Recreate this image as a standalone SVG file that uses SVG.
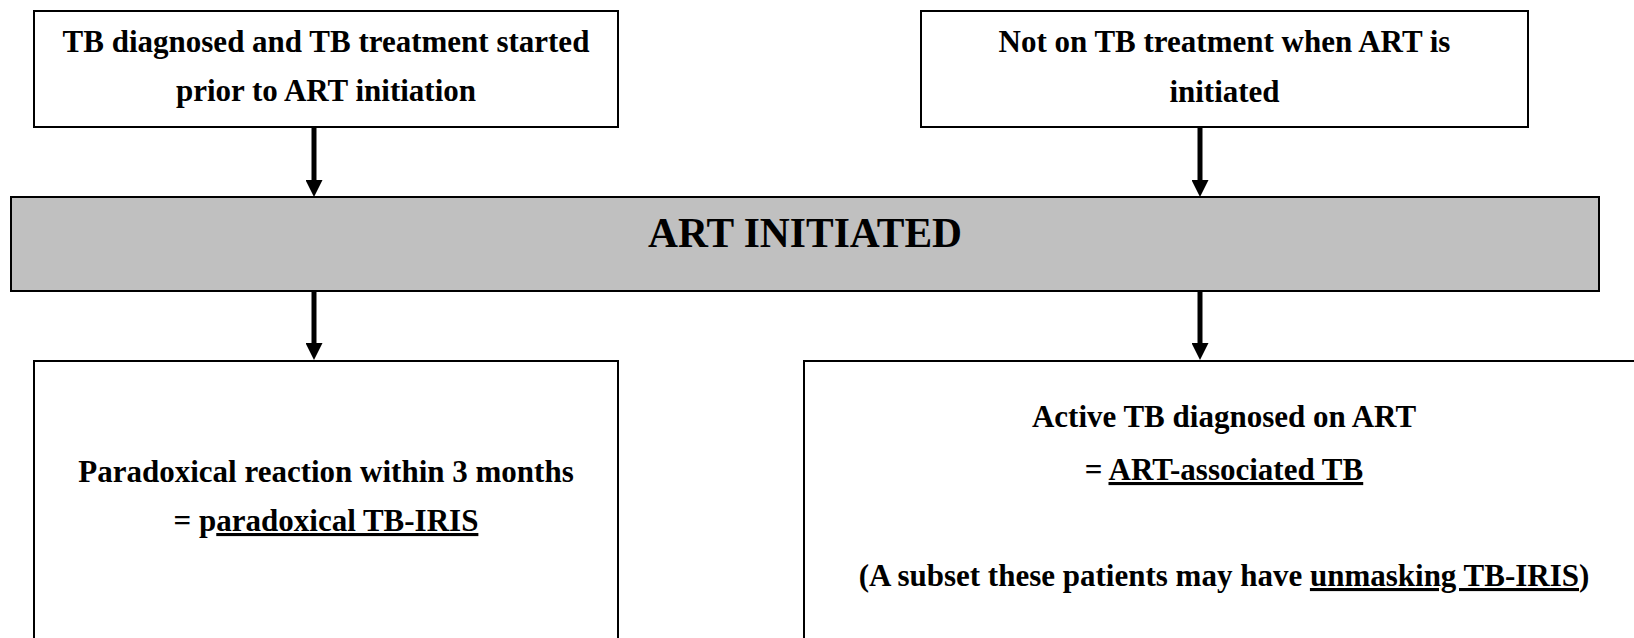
<svg xmlns="http://www.w3.org/2000/svg" width="1634" height="638" viewBox="0 0 1634 638">
<style>
.box{fill:#ffffff;stroke:#000;stroke-width:2}
.bar{fill:#c0c0c0;stroke:#000;stroke-width:2}
.t{font-family:"Liberation Serif","Times New Roman",serif;font-weight:bold;font-size:31px;fill:#000;text-anchor:middle}
.big{font-size:41.5px}
.u{text-decoration:underline}
.conn{stroke:#000;stroke-width:5;fill:none;marker-end:url(#ah)}
</style>
<defs>
<marker id="ah" markerUnits="userSpaceOnUse" markerWidth="17" markerHeight="17" refX="0" refY="8.5" orient="auto">
<path d="M0,0 L17,8.5 L0,17 Z" fill="#000"/>
</marker>
</defs>
<rect width="1634" height="638" fill="#fff"/>
<g id="n-tb-before">
<rect class="box" x="34" y="11" width="584" height="116"/>
<text class="t" x="326" y="52">TB diagnosed and TB treatment started</text>
<text class="t" x="326" y="101">prior to ART initiation</text>
</g>
<g id="n-not-on-tb">
<rect class="box" x="921" y="11" width="607" height="116"/>
<text class="t" x="1224.5" y="52">Not on TB treatment when ART is</text>
<text class="t" x="1224.5" y="102">initiated</text>
</g>
<g id="n-art">
<rect class="bar" x="11" y="197" width="1588" height="94"/>
<text class="t big" x="805" y="247">ART INITIATED</text>
</g>
<g id="n-paradoxical">
<rect class="box" x="34" y="361" width="584" height="300"/>
<text class="t" x="326" y="482">Paradoxical reaction within 3 months</text>
<text class="t" x="326" y="531">= p<tspan class="u">aradoxical TB-IRIS</tspan></text>
</g>
<g id="n-art-associated">
<rect class="box" x="804" y="361" width="840" height="300"/>
<text class="t" x="1224" y="427">Active TB diagnosed on ART</text>
<text class="t" x="1224" y="480">= <tspan class="u">ART-associated TB</tspan></text>
<text class="t" x="1224" y="586">(A subset these patients may have <tspan class="u">unmasking TB-IRIS</tspan>)</text>
</g>
<g id="connectors">
<line class="conn" x1="314" y1="127" x2="314" y2="180"/>
<line class="conn" x1="1200" y1="127" x2="1200" y2="180"/>
<line class="conn" x1="314" y1="291" x2="314" y2="343"/>
<line class="conn" x1="1200" y1="291" x2="1200" y2="343"/>
</g>
</svg>
